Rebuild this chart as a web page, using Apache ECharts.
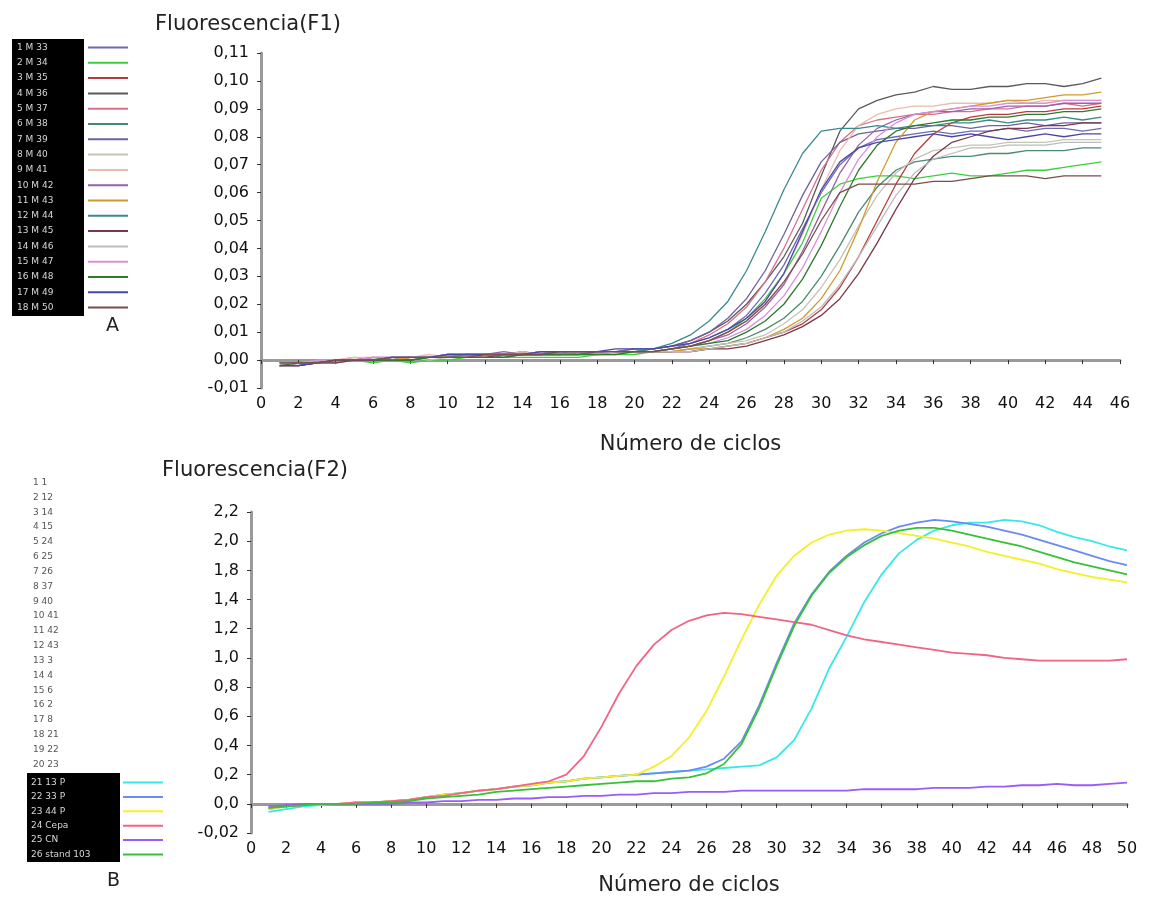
<!DOCTYPE html>
<html>
<head>
<meta charset="utf-8">
<script src="https://cdn.jsdelivr.net/npm/echarts@6/dist/echarts.min.js"></script>
<style>
  html, body { margin: 0; background: #fff; }
  #chart { width: 1155px; height: 899px; }
</style>
</head>
<body>
<div id="chart"></div>
<script>
// --- panel A data (cycles 1..45) ---
const cyclesA = [1,2,3,4,5,6,7,8,9,10,11,12,13,14,15,16,17,18,19,20,21,22,23,24,25,26,27,28,29,30,31,32,33,34,35,36,37,38,39,40,41,42,43,44,45];
const namesA = ['1 M 33','2 M 34','3 M 35','4 M 36','5 M 37','6 M 38','7 M 39','8 M 40','9 M 41','10 M 42','11 M 43','12 M 44','13 M 45','14 M 46','15 M 47','16 M 48','17 M 49','18 M 50'];
const colorsA = ['#6c6cb4','#3ccf3c','#b83c3c','#5a5a5a','#d8708c','#4a8a72','#7060a0','#c4c4b4','#ecbcac','#9a60a8','#d09a30','#3a8a8a','#7a3848','#bcbcbc','#d890d8','#2e7a2e','#4848a8','#7a4c4c'];

const m33 = [-0.002,-0.001,-0.001,0.000,0.000,0.000,0.001,0.001,0.001,0.001,0.002,0.002,0.002,0.002,0.002,0.002,0.003,0.003,0.003,0.003,
  0.003,0.004,0.006,0.008,0.011,0.016,0.024,0.034,0.047,0.060,0.070,0.076,0.079,0.080,0.081,0.082,0.081,0.082,0.082,0.083,0.082,0.083,0.083,0.082,0.083];
const m34 = [-0.001,-0.001,-0.001,0.000,0.000,-0.001,0.000,-0.001,0.000,0.000,0.001,0.001,0.001,0.001,0.001,0.001,0.001,0.002,0.002,0.002,
  0.003,0.004,0.005,0.007,0.010,0.015,0.022,0.031,0.042,0.058,0.063,0.065,0.066,0.066,0.065,0.066,0.067,0.066,0.066,0.067,0.068,0.068,0.069,0.070,0.071];
const m35 = [-0.002,-0.002,-0.001,-0.001,0.000,0.000,0.000,0.001,0.001,0.001,0.001,0.002,0.002,0.002,0.002,0.003,0.002,0.003,0.003,0.003,
  0.003,0.003,0.003,0.004,0.005,0.006,0.008,0.010,0.013,0.018,0.026,0.037,0.050,0.063,0.074,0.081,0.085,0.087,0.088,0.088,0.089,0.089,0.090,0.090,0.091];
const m36 = [-0.001,-0.001,0.000,0.000,0.000,0.001,0.000,0.001,0.001,0.002,0.002,0.002,0.002,0.003,0.002,0.002,0.003,0.003,0.003,0.003,
  0.004,0.005,0.007,0.010,0.014,0.020,0.028,0.037,0.049,0.066,0.082,0.090,0.093,0.095,0.096,0.098,0.097,0.097,0.098,0.098,0.099,0.099,0.098,0.099,0.101];
const m37 = [-0.002,-0.001,-0.001,0.000,0.001,0.000,0.000,0.001,0.001,0.001,0.002,0.001,0.002,0.002,0.002,0.003,0.003,0.002,0.003,0.004,
  0.004,0.005,0.006,0.009,0.013,0.019,0.028,0.040,0.054,0.068,0.078,0.084,0.086,0.087,0.088,0.088,0.089,0.089,0.090,0.090,0.091,0.091,0.092,0.091,0.092];
const m38 = [-0.002,-0.001,0.000,0.000,0.000,0.000,0.001,0.000,0.001,0.001,0.001,0.002,0.001,0.002,0.002,0.002,0.002,0.003,0.003,0.003,
  0.003,0.003,0.004,0.005,0.006,0.008,0.011,0.015,0.021,0.030,0.041,0.053,0.062,0.068,0.071,0.072,0.073,0.073,0.074,0.074,0.075,0.075,0.075,0.076,0.076];
const m39 = [-0.001,-0.002,-0.001,0.000,0.000,0.000,0.001,0.001,0.001,0.002,0.002,0.002,0.002,0.002,0.003,0.002,0.003,0.003,0.003,0.004,
  0.004,0.005,0.007,0.010,0.015,0.022,0.032,0.045,0.059,0.071,0.078,0.081,0.082,0.083,0.083,0.084,0.084,0.083,0.084,0.084,0.085,0.084,0.085,0.085,0.085];
const m40 = [-0.002,-0.001,-0.001,-0.001,0.000,0.000,0.000,0.001,0.000,0.001,0.001,0.001,0.002,0.002,0.002,0.002,0.002,0.002,0.003,0.003,
  0.003,0.003,0.004,0.005,0.006,0.007,0.009,0.013,0.018,0.026,0.036,0.048,0.059,0.067,0.072,0.075,0.076,0.077,0.077,0.078,0.078,0.078,0.079,0.079,0.079];
const m41 = [-0.001,-0.001,0.000,0.000,0.001,0.001,0.001,0.001,0.002,0.001,0.002,0.002,0.002,0.003,0.002,0.002,0.003,0.003,0.003,0.003,
  0.003,0.004,0.005,0.007,0.010,0.014,0.021,0.031,0.045,0.061,0.075,0.084,0.088,0.090,0.091,0.091,0.092,0.092,0.092,0.093,0.092,0.093,0.093,0.093,0.093];
const m42 = [-0.002,-0.002,-0.001,0.000,0.000,0.001,0.001,0.001,0.001,0.002,0.002,0.002,0.003,0.002,0.002,0.003,0.003,0.003,0.003,0.003,
  0.003,0.004,0.005,0.007,0.009,0.013,0.019,0.027,0.039,0.053,0.067,0.077,0.083,0.086,0.088,0.089,0.089,0.090,0.090,0.091,0.091,0.091,0.092,0.092,0.092];
const m43 = [-0.002,-0.001,-0.001,0.000,0.000,0.000,0.000,0.001,0.001,0.001,0.002,0.002,0.002,0.002,0.002,0.002,0.003,0.003,0.003,0.003,
  0.003,0.003,0.004,0.004,0.005,0.006,0.008,0.011,0.015,0.022,0.032,0.047,0.064,0.078,0.086,0.089,0.090,0.091,0.092,0.093,0.093,0.094,0.095,0.095,0.096];
const m44 = [-0.001,-0.001,-0.001,0.000,0.000,0.000,0.001,0.001,0.001,0.001,0.002,0.002,0.002,0.002,0.003,0.003,0.003,0.003,0.003,0.003,
  0.004,0.006,0.009,0.014,0.021,0.032,0.046,0.061,0.074,0.082,0.083,0.083,0.084,0.083,0.084,0.084,0.085,0.085,0.086,0.085,0.086,0.086,0.087,0.086,0.087];
const m45 = [-0.002,-0.002,-0.001,-0.001,0.000,0.000,0.000,0.000,0.001,0.001,0.001,0.001,0.002,0.002,0.002,0.002,0.002,0.003,0.003,0.003,
  0.003,0.003,0.003,0.004,0.004,0.005,0.007,0.009,0.012,0.016,0.022,0.031,0.042,0.054,0.065,0.073,0.078,0.080,0.082,0.083,0.083,0.084,0.084,0.085,0.085];
const m46 = [-0.002,-0.001,-0.001,0.000,0.000,0.000,0.001,0.001,0.001,0.001,0.001,0.002,0.002,0.002,0.002,0.002,0.002,0.002,0.003,0.003,
  0.003,0.003,0.003,0.004,0.005,0.006,0.008,0.010,0.014,0.019,0.027,0.037,0.048,0.059,0.067,0.072,0.074,0.076,0.076,0.077,0.077,0.077,0.078,0.078,0.078];
const m47 = [-0.001,-0.001,0.000,0.000,0.000,0.001,0.001,0.001,0.001,0.002,0.002,0.002,0.002,0.002,0.003,0.003,0.003,0.003,0.003,0.003,
  0.003,0.004,0.005,0.006,0.008,0.011,0.016,0.023,0.033,0.046,0.060,0.072,0.080,0.085,0.088,0.089,0.090,0.091,0.091,0.092,0.092,0.092,0.093,0.093,0.093];
const m48 = [-0.002,-0.001,-0.001,0.000,0.000,0.000,0.000,0.000,0.001,0.001,0.001,0.001,0.001,0.002,0.002,0.002,0.002,0.002,0.002,0.003,
  0.003,0.004,0.005,0.006,0.007,0.010,0.014,0.020,0.029,0.041,0.055,0.068,0.077,0.082,0.084,0.085,0.086,0.086,0.087,0.087,0.088,0.088,0.089,0.089,0.090];
const m49 = [-0.002,-0.002,-0.001,0.000,0.000,0.000,0.001,0.001,0.001,0.002,0.002,0.002,0.002,0.002,0.003,0.003,0.003,0.003,0.004,0.004,
  0.004,0.005,0.006,0.008,0.011,0.015,0.021,0.031,0.046,0.061,0.071,0.076,0.078,0.079,0.080,0.081,0.080,0.081,0.080,0.079,0.080,0.081,0.080,0.081,0.081];
const m50 = [-0.001,-0.001,-0.001,0.000,0.000,0.000,0.001,0.001,0.001,0.001,0.001,0.002,0.002,0.002,0.002,0.003,0.003,0.003,0.003,0.003,
  0.003,0.004,0.005,0.007,0.010,0.014,0.020,0.028,0.038,0.050,0.060,0.063,0.063,0.063,0.063,0.064,0.064,0.065,0.066,0.066,0.066,0.065,0.066,0.066,0.066];
const valuesA = [m33,m34,m35,m36,m37,m38,m39,m40,m41,m42,m43,m44,m45,m46,m47,m48,m49,m50];

// --- panel B data (cycles 1..50) ---
const cyclesB = [1,2,3,4,5,6,7,8,9,10,11,12,13,14,15,16,17,18,19,20,21,22,23,24,25,26,27,28,29,30,31,32,33,34,35,36,37,38,39,40,41,42,43,44,45,46,47,48,49,50];
const hiddenB = ['1 1','2 12','3 14','4 15','5 24','6 25','7 26','8 37','9 40','10 41','11 42','12 43','13 3','14 4','15 6','16 2','17 8','18 21','19 22','20 23'];
const namesB = ['21 13 P','22 33 P','23 44 P','24 Cepa','25 CN','26 stand 103'];
const colorsB = ['#38e8e8','#6a8cf0','#f4f028','#f06484','#9a5cf8','#38c038'];

const p13 = [-0.06,-0.04,-0.02,-0.01,0.00,0.00,0.01,0.02,0.03,0.05,0.07,0.08,0.10,0.11,0.13,0.14,0.16,0.17,0.19,0.20,0.21,0.22,0.23,0.24,0.25,
  0.26,0.27,0.28,0.29,0.35,0.48,0.72,1.02,1.26,1.52,1.73,1.89,1.99,2.06,2.10,2.12,2.12,2.14,2.13,2.10,2.05,2.01,1.98,1.94,1.91];
const p33 = [-0.04,-0.02,-0.01,0.00,0.00,0.01,0.01,0.02,0.03,0.05,0.07,0.08,0.10,0.11,0.13,0.14,0.16,0.17,0.19,0.20,0.21,0.22,0.23,0.24,0.25,
  0.28,0.34,0.47,0.74,1.06,1.36,1.58,1.75,1.87,1.97,2.04,2.09,2.12,2.14,2.13,2.11,2.09,2.06,2.03,1.99,1.95,1.91,1.87,1.83,1.80];
const p44 = [-0.04,-0.02,-0.01,0.00,0.00,0.01,0.01,0.02,0.03,0.05,0.07,0.08,0.10,0.11,0.13,0.14,0.16,0.17,0.19,0.20,0.21,0.22,0.28,0.36,0.50,
  0.70,0.96,1.24,1.50,1.72,1.87,1.97,2.03,2.06,2.07,2.06,2.04,2.02,2.00,1.97,1.94,1.90,1.87,1.84,1.81,1.77,1.74,1.71,1.69,1.67];
const cepa = [-0.03,-0.02,-0.01,0.00,0.00,0.01,0.01,0.02,0.03,0.05,0.06,0.08,0.10,0.11,0.13,0.15,0.17,0.22,0.36,0.58,0.83,1.04,1.20,1.31,1.38,
  1.42,1.44,1.43,1.41,1.39,1.37,1.35,1.31,1.27,1.24,1.22,1.20,1.18,1.16,1.14,1.13,1.12,1.10,1.09,1.08,1.08,1.08,1.08,1.08,1.09];
const cn = [-0.02,-0.01,0.00,0.00,0.00,0.00,0.00,0.00,0.01,0.01,0.02,0.02,0.03,0.03,0.04,0.04,0.05,0.05,0.06,0.06,0.07,0.07,0.08,0.08,0.09,
  0.09,0.09,0.10,0.10,0.10,0.10,0.10,0.10,0.10,0.11,0.11,0.11,0.11,0.12,0.12,0.12,0.13,0.13,0.14,0.14,0.15,0.14,0.14,0.15,0.16];
const stand103 = [-0.03,-0.02,-0.01,0.00,0.00,0.00,0.01,0.01,0.02,0.04,0.05,0.06,0.07,0.09,0.10,0.11,0.12,0.13,0.14,0.15,0.16,0.17,0.17,0.19,0.20,
  0.23,0.30,0.45,0.72,1.04,1.34,1.57,1.74,1.86,1.95,2.02,2.06,2.08,2.08,2.06,2.03,2.00,1.97,1.94,1.90,1.86,1.82,1.79,1.76,1.73];
const valuesB = [p13,p33,p44,cepa,cn,stand103];

// the instrument printed its own (irregular) labels on the F2 axis
const yTicksB = ['-0,02','0,0','0,2','0,4','0,6','0,8','1,0','1,2','1,4','1,8','2,0','2,2'];

const font = 'DejaVu Sans, Verdana, sans-serif';

const axisBase = {
  type: 'value',
  axisLine: { lineStyle: { color: '#9a9a9a', width: 3 } },
  axisTick: { length: 4, lineStyle: { color: '#333', width: 1 } },
  axisLabel: { color: '#111', fontFamily: font, fontSize: 16 },
  splitLine: { show: false }
};

const chart = echarts.init(document.getElementById('chart'));

const seriesA = valuesA.map((vals, i) => ({
  name: namesA[i],
  type: 'line',
  xAxisIndex: 0,
  yAxisIndex: 0,
  symbol: 'none',
  color: colorsA[i],
  lineStyle: { width: 1.3 },
  data: cyclesA.map((c, k) => [c, vals[k]])
}));

const seriesB = valuesB.map((vals, i) => ({
  name: namesB[i],
  type: 'line',
  xAxisIndex: 1,
  yAxisIndex: 1,
  symbol: 'none',
  color: colorsB[i],
  lineStyle: { width: 1.8 },
  data: cyclesB.map((c, k) => [c, vals[k]])
}));

// legend text sits in a fixed-width, left-aligned box, the sample line to its right
const legendBox = (w) => ({
  orient: 'vertical',
  align: 'right',
  icon: 'rect',
  itemWidth: 40,
  itemHeight: 2,
  padding: 0,
  selectedMode: false,
  formatter: name => '{t|' + name + '}',
  textStyle: {
    rich: { t: { width: w, align: 'left', color: '#d8d8d8', fontFamily: font, fontSize: 9, lineHeight: 11 } }
  }
});

const options = {
  animation: false,
  backgroundColor: '#fff',
  title: [
    { text: 'Fluorescencia(F1)', left: 150, top: 9, textStyle: { fontFamily: font, fontSize: 21, fontWeight: 'normal', color: '#222' } },
    { text: 'Fluorescencia(F2)', left: 157, top: 455, textStyle: { fontFamily: font, fontSize: 21, fontWeight: 'normal', color: '#222' } }
  ],
  legend: [
    Object.assign(legendBox(66), { data: namesA, left: 17, top: 43, itemGap: 6.3 }),
    Object.assign(legendBox(87), { data: namesB, left: 31, top: 778, itemGap: 5.4 })
  ],
  grid: [
    { left: 261, right: 35, top: 53, bottom: 511 },
    { left: 251, right: 28, top: 512, bottom: 66 }
  ],
  xAxis: [
    Object.assign({}, axisBase, {
      gridIndex: 0, min: 0, max: 46, interval: 2,
      name: 'Número de ciclos', nameLocation: 'middle', nameGap: 46,
      nameTextStyle: { fontFamily: font, fontSize: 21, color: '#222' }
    }),
    Object.assign({}, axisBase, {
      gridIndex: 1, min: 0, max: 50, interval: 2,
      name: 'Número de ciclos', nameLocation: 'middle', nameGap: 42,
      nameTextStyle: { fontFamily: font, fontSize: 21, color: '#222' }
    })
  ],
  yAxis: [
    Object.assign({}, axisBase, {
      gridIndex: 0, min: -0.01, max: 0.11, interval: 0.01,
      axisLabel: Object.assign({}, axisBase.axisLabel, {
        margin: 12,
        formatter: v => v.toFixed(2).replace('.', ',')
      })
    }),
    Object.assign({}, axisBase, {
      gridIndex: 1, min: -0.22, max: 2.2, interval: 0.22,
      axisLabel: Object.assign({}, axisBase.axisLabel, {
        margin: 12,
        formatter: v => yTicksB[Math.round(v / 0.22) + 1]
      })
    })
  ],
  graphic: [
    { type: 'rect', z: -1, shape: { x: 12, y: 39, width: 72, height: 277 }, style: { fill: '#000' } },
    { type: 'rect', z: -1, shape: { x: 27, y: 773, width: 93, height: 89 }, style: { fill: '#000' } },
    { type: 'text', x: 106, y: 317, style: { text: 'A', fontFamily: font, fontSize: 19, fill: '#222' } },
    { type: 'text', x: 107, y: 872, style: { text: 'B', fontFamily: font, fontSize: 19, fill: '#222' } }
  ].concat(hiddenB.map((t, i) => ({
    type: 'text', x: 33, y: 478 + i * 14.84,
    style: { text: t, fontFamily: font, fontSize: 9, fill: '#555' }
  }))),
  series: seriesA.concat(seriesB)
};

chart.setOption(options);
</script>
</body>
</html>
